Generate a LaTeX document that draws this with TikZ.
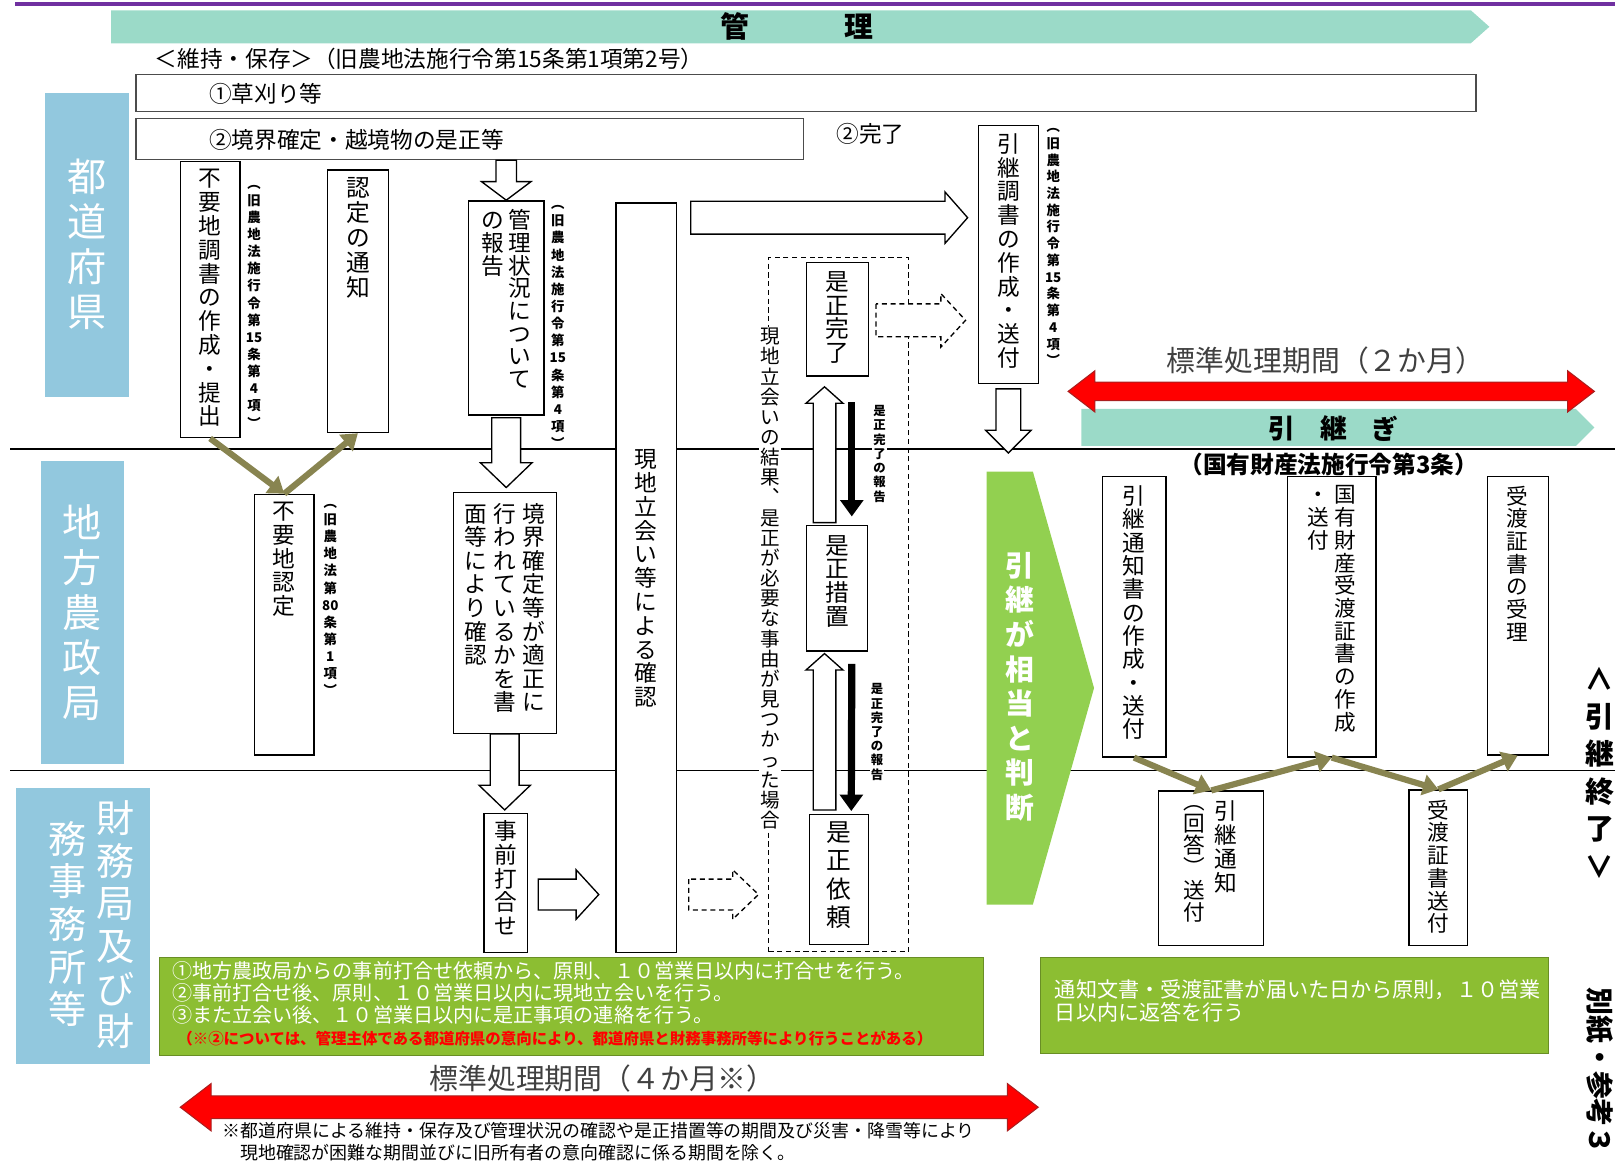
\documentclass[tikz,border=0pt]{standalone}
\usepackage{fontspec}
\usepackage{graphicx}
\setmainfont{Noto Sans CJK JP}
\usetikzlibrary{arrows.meta,calc,fit}
\definecolor{lanebl}{RGB}{146,200,222}
\definecolor{tealband}{RGB}{155,218,200}
\definecolor{olivec}{RGB}{136,132,80}
\definecolor{grnarrow}{RGB}{146,208,80}
\definecolor{gboxc}{RGB}{140,190,50}
\definecolor{dred}{RGB}{170,30,30}
\definecolor{purp}{RGB}{112,48,160}
\definecolor{txtg}{RGB}{64,64,64}
\newcommand\setfs[1]{\fontsize{#1}{#1}\selectfont}
\ExplSyntaxOn
\NewDocumentCommand\vt{O{1.1}m}{\vtop{\baselineskip=#1em\lineskip=0pt\lineskiplimit=-\maxdimen\tl_map_inline:nn{#2}{\hbox~to~1em{\hss##1\hss}}}}
\ExplSyntaxOff
\newcommand\blkdown[6][]{\draw[blk,#1] let \p1=#2, \p2=#3 in (\x1-#4pt,\y1) -- (\x1+#4pt,\y1) -- (\x1+#4pt,\y2+#6pt) -- (\x1+#5pt,\y2+#6pt) -- (\x1,\y2) -- (\x1-#5pt,\y2+#6pt) -- (\x1-#4pt,\y2+#6pt) -- cycle;}
\newcommand\blkup[6][]{\draw[blk,#1] let \p1=#2, \p2=#3 in (\x1-#4pt,\y1) -- (\x1+#4pt,\y1) -- (\x1+#4pt,\y2-#6pt) -- (\x1+#5pt,\y2-#6pt) -- (\x1,\y2) -- (\x1-#5pt,\y2-#6pt) -- (\x1-#4pt,\y2-#6pt) -- cycle;}
\newcommand\blkright[6][]{\draw[blk,#1] let \p1=#2, \p2=#3 in (\x1,\y1+#4pt) -- (\x1,\y1-#4pt) -- (\x2-#6pt,\y1-#4pt) -- (\x2-#6pt,\y1-#5pt) -- (\x2,\y1) -- (\x2-#6pt,\y1+#5pt) -- (\x2-#6pt,\y1+#4pt) -- cycle;}
\newcommand\dblarrow[5]{\filldraw[fill=red, draw=dred, line width=1pt] let \p1=#1, \p2=#2 in (\x1,\y1) -- (\x1+#5pt,\y1+#4pt) -- (\x1+#5pt,\y1+#3pt) -- (\x2-#5pt,\y1+#3pt) -- (\x2-#5pt,\y1+#4pt) -- (\x2,\y1) -- (\x2-#5pt,\y1-#4pt) -- (\x2-#5pt,\y1-#3pt) -- (\x1+#5pt,\y1-#3pt) -- (\x1+#5pt,\y1-#4pt) -- cycle;}
\begin{document}
\begin{tikzpicture}[x=1pt,y=-1pt,
  box/.style={draw, line width=1.3pt, fill=white, inner sep=0pt},
  wbox/.style={draw=black!70, line width=1.2pt, inner sep=0pt},
  lane/.style={fill=lanebl, draw=none, inner sep=0pt},
  vtxt/.style={anchor=north, inner sep=0pt},
  anno/.style={anchor=north, inner sep=0pt, font=\setfs{13}\bfseries},
  blk/.style={draw, line width=1.3pt, fill=white, line join=miter},
  dsh/.style={dash pattern=on 5pt off 3.5pt},
  olv/.style={draw=olivec, line width=6pt, -{Triangle[length=15pt,width=20pt]}},
  blackar/.style={line width=7pt, -{Triangle[length=16pt,width=22pt]}},
  lanel/.style={line width=1.5pt},
  gnote/.style={fill=gboxc, draw=gboxc!75!black, line width=1pt, inner sep=0pt}]
\useasboundingbox (0,0) rectangle (1568,1131);

% ---- top header
\draw[purp, line width=4pt] (15,4) -- (1568,4);
\fill[tealband] (108,10) -- (1428,10) -- (1446,26) -- (1428,42) -- (108,42) -- cycle;
\node[font=\setfs{28}\bfseries] (kanriA) at (714,26) {管};
\node[font=\setfs{28}\bfseries] (kanriB) at (834,26) {理};
\node[anchor=west, font=\setfs{22}, inner sep=0pt] (iji) at (150,57) {＜維持・保存＞（旧農地法施行令第15条第1項第2号）};

% ---- lane lines
\draw[lanel] (10,436) -- (1568,436);
\draw[lanel] (10,748) -- (1568,748);

% ---- maintenance boxes
\node[wbox, fit={(132,72)(1433,108)}] (kusa) {};
\node[anchor=west, font=\setfs{22}, inner sep=0pt] (kusa-t) at (203,91) {①草刈り等};
\node[wbox, fit={(132,115)(780,155)}] (kyokai) {};
\node[anchor=west, font=\setfs{22}, inner sep=0pt] (kyokai-t) at (203,136) {②境界確定・越境物の是正等};
\node[anchor=west, font=\setfs{22}, inner sep=0pt] (kanryo) at (812,130) {②完了};

% ---- lane labels
\node[lane, fit={(44,90)(125,385)}] (L1) {};
\node[font=\setfs{38}, text=white, inner sep=0pt] (L1t) at (L1.center) {\vt[1.15]{都道府県}};
\node[lane, fit={(40,448)(120,742)}] (L2) {};
\node[font=\setfs{38}, text=white, inner sep=0pt] (L2t) at (L2.center) {\vt[1.15]{地方農政局}};
\node[lane, fit={(16,765)(146,1033)}] (L3) {};
\node[vtxt, font=\setfs{37}, text=white] (L3a) at (112,777) {\vt[1.12]{財務局及び財}};
\node[vtxt, font=\setfs{37}, text=white] (L3b) at (66,797) {\vt[1.12]{務事務所等}};

% ---- process boxes
\node[box, fit={(175,157)(233,425)}] (fuyo) {};
\node[vtxt, font=\setfs{22}] (fuyo-t) at ($(fuyo.north)+(0,8)$) {\vt[1.05]{不要地調書の作成・提出}};
\node[anno] (fuyo-a) at ($(fuyo.north east)+(13,23)$) {\vt[1.28]{︵旧農地法施行令第{15}条第4項︶}};

\node[box, fit={(318,165)(377,420)}] (nintei) {};
\node[vtxt, font=\setfs{23}] (nintei-t) at ($(nintei.north)+(0,8)$) {\vt[1.05]{認定の通知}};

\node[box, fit={(455,195)(528,403)}] (kanrijo) {};
\node[vtxt, font=\setfs{22}] (kanrijo-t) at ($(kanrijo.north)+(0,9)$) {\vt[1.0]{の報告}\hspace{5pt}\vt[1.0]{管理状況について}};
\node[anno] (kanrijo-a) at ($(kanrijo.north east)+(13,5)$) {\vt[1.28]{︵旧農地法施行令第{15}条第4項︶}};

\node[box, fit={(247,480)(305,733)}] (fuyonin) {};
\node[vtxt, font=\setfs{22}] (fuyonin-t) at ($(fuyonin.north)+(0,8)$) {\vt[1.05]{不要地認定}};
\node[anno] (fuyonin-a) at ($(fuyonin.north east)+(15,10)$) {\vt[1.28]{︵旧農地法第{80}条第1項︶}};

\node[box, fit={(440,478)(540,712)}] (kakunin) {};
\node[vtxt, font=\setfs{22}] (kakunin-t) at ($(kakunin.north)+(0,11)$) {\vt[1.04]{面等により確認}\hspace{6pt}\vt[1.04]{行われているかを書}\hspace{6pt}\vt[1.04]{境界確定等が適正に}};

\node[box, fit={(470,790)(512,925)}] (jizen) {};
\node[vtxt, font=\setfs{22}] (jizen-t) at ($(jizen.north)+(0,7)$) {\vt[1.05]{事前打合せ}};

\node[box, fit={(598,197)(657,925)}] (genchi) {};
\node[vtxt, font=\setfs{22}] (genchi-t) at ($(genchi.north)+(0,240)$) {\vt[1.05]{現地立会い等による確認}};

% ---- correction loop
\node[draw, dsh, line width=1.2pt, fit={(746,250)(882,924)}, inner sep=0pt] (dbox) {};
\node[vtxt, fill=white, inner sep=1pt, font=\setfs{19}] (dbox-t) at ($(dbox.north west)+(2,68)$) {\vt[1.03]{現地立会いの結果︑是正が必要な事由が見つかった場合}};

\node[box, line width=1.1pt, fit={(783,255)(843,365)}] (kansei) {};
\node[vtxt, font=\setfs{23}] (kansei-t) at ($(kansei.north)+(0,9)$) {\vt[1.0]{是正完了}};
\node[box, line width=1.1pt, fit={(783,510)(842,632)}] (sochi) {};
\node[vtxt, font=\setfs{23}] (sochi-t) at ($(sochi.north)+(0,10)$) {\vt[1.0]{是正措置}};
\node[box, line width=1.1pt, fit={(786,791)(843,917)}] (irai) {};
\node[vtxt, font=\setfs{24}] (irai-t) at ($(irai.north)+(0,7)$) {\vt[1.15]{是正依頼}};

\blkup{($(sochi.north)+(-12,-2)$)}{($(kansei.south)+(-12,10)$)}{11}{18}{16}
\blkup{($(irai.north)+(-14,-4)$)}{($(sochi.south)+(-12,2)$)}{11}{18}{16}
\draw[blackar] ($(kansei.south)+(14,25)$) -- ($(sochi.north)+(14.5,-8)$);
\draw[blackar] ($(sochi.south)+(14.5,12)$) -- ($(irai.north)+(12,-3)$);
\node[vtxt, fill=white, inner sep=1pt, font=\setfs{12}\bfseries] (lab1) at ($(kansei.south)+(41,27)$) {\vt[1.15]{是正完了の報告}};
\node[vtxt, fill=white, inner sep=1pt, font=\setfs{12}\bfseries] (lab2) at ($(sochi.south)+(39,30)$) {\vt[1.15]{是正完了の報告}};

% ---- hikitsugi chosho
\node[box, line width=1.1pt, fit={(950,122)(1008,372)}] (chosho) {};
\node[vtxt, font=\setfs{22}] (chosho-t) at ($(chosho.north)+(0,8)$) {\vt[1.05]{引継調書の作成・送付}};
\node[anno] (chosho-a) at ($(chosho.north east)+(14,3)$) {\vt[1.25]{︵旧農地法施行令第{15}条第4項︶}};

% ---- block arrows
\blkdown{(kyokai.south -| kanrijo.north)}{(kanrijo.north)}{10}{24}{18}
\blkdown{($(kanrijo.south)+(0,2)$)}{($(kakunin.north)+(0,-4)$)}{14}{25}{24}
\blkdown{(kakunin.south)}{($(jizen.north)+(0,-3)$)}{14}{25}{24}
\coordinate (a4) at ($(jizen.east)+(10,11)$);
\blkright{(a4)}{($(a4 -| genchi.west)+(-16,0)$)}{15}{24}{22}
\coordinate (a5) at ($(genchi.north east)+(13,15)$);
\blkright{(a5)}{($(a5 -| chosho.west)+(-10,0)$)}{16}{25}{22}
\coordinate (a6) at ($(genchi.east |- a4)+(11,0)$);
\blkright[dsh]{(a6)}{($(a6 -| dbox.west)+(-9,0)$)}{15}{24}{25}
\coordinate (a7) at ($(kansei.east)+(7,1)$);
\blkright[dsh]{(a7)}{($(a7 -| chosho.west)+(-12,0)$)}{16}{26}{24}

% ---- green chevron
\node[inner sep=0pt, fit={(958,458)(1062,878)}] (hantei) {};
\fill[grnarrow] (hantei.north west) -- ($(hantei.north west)+(45,0)$) -- (hantei.east) -- ($(hantei.south west)+(45,0)$) -- (hantei.south west) -- cycle;
\node[vtxt, font=\setfs{28}\bfseries, text=white] (hantei-t) at ($(hantei.north west)+(32,78)$) {\vt[1.2]{引継が相当と判断}};
\blkdown{($(chosho.south)+(0,5)$)}{($(hantei.north -| chosho.south)+(0,-18)$)}{12}{22}{22}

% ---- hikitsugi band
\fill[tealband] (1050,397) -- (1530,397) -- (1548,415) -- (1530,433) -- (1050,433) -- cycle;
\coordinate (r2L) at (1037,380);
\coordinate (r2R) at (1548,380);
\dblarrow{(r2L)}{(r2R)}{9}{20}{26}
\node[font=\setfs{28}, text=txtg] (period2) at (1287,350) {標準処理期間（２か月）};
\node[font=\setfs{26}\bfseries] (hk1) at (1245,416) {引};
\node[font=\setfs{26}\bfseries] (hk2) at (1295,416) {継};
\node[font=\setfs{26}\bfseries] (hk3) at (1345,416) {ぎ};
\node[font=\setfs{23}\bfseries] (kokuyu) at (1290,451) {（国有財産法施行令第3条）};

% ---- right side boxes
\node[box, line width=1.1pt, fit={(1070,463)(1132,735)}] (tsuchi) {};
\node[vtxt, font=\setfs{22}] (tsuchi-t) at ($(tsuchi.north)+(0,9)$) {\vt[1.03]{引継通知書の作成・送付}};
\node[box, line width=1.1pt, fit={(1250,463)(1336,735)}] (juto) {};
\node[vtxt, font=\setfs{21}] (juto-t) at ($(juto.north)+(0,9)$) {\vt[1.05]{・送付}\hspace{6pt}\vt[1.05]{国有財産受渡証書の作成}};
\node[box, line width=1.1pt, fit={(1444,463)(1503,733)}] (juri) {};
\node[vtxt, font=\setfs{21}] (juri-t) at ($(juri.north)+(0,9)$) {\vt[1.05]{受渡証書の受理}};
\node[box, line width=1.1pt, fit={(1125,768)(1227,918)}] (kaito) {};
\node[vtxt, font=\setfs{22}] (kaito-t1) at ($(kaito.north)+(14,10)$) {\vt[1.05]{引継通知}};
\node[vtxt, font=\setfs{21}] (kaito-t2) at ($(kaito.north)+(-16,14)$) {\vt[1.03]{︵回答︶送付}};
\node[box, line width=1.1pt, fit={(1368,767)(1425,918)}] (ukew) {};
\node[vtxt, font=\setfs{21}] (ukew-t) at ($(ukew.north)+(0,10)$) {\vt[1.05]{受渡証書送付}};

% ---- olive arrows
\draw[olv] (fuyo.south) -- (fuyonin.north);
\draw[olv] (fuyonin.north) -- (nintei.south);
\draw[olv] (tsuchi.south) -- (kaito.north);
\draw[olv] (kaito.north) -- (juto.south);
\draw[olv] (juto.south) -- (ukew.north);
\draw[olv] (ukew.north) -- (juri.south);

% ---- right margin
\node[vtxt, font=\setfs{28}\bfseries] (owari) at (1553,645) {\vt[1.3]{{\rotatebox[origin=c]{-90}{＜}}引継終了{\rotatebox[origin=c]{-90}{＞}}}};
\node[rotate=-90, font=\setfs{27}\bfseries] (bessi) at (1553,1040) {別紙・参考３};

% ---- notes
\node[gnote, fit={(155,930)(955,1025)}] (note1) {};
\node[anchor=north west, align=left, text=white, font=\fontsize{19.5}{21.5}\selectfont, inner sep=0pt] (note1-t) at (167,933) {①地方農政局からの事前打合せ依頼から、原則、１０営業日以内に打合せを行う。\\②事前打合せ後、原則、１０営業日以内に現地立会いを行う。\\③また立会い後、１０営業日以内に是正事項の連絡を行う。\\\hspace*{5pt}{\fontsize{15}{21.5}\selectfont\bfseries\color{red}（※②については、管理主体である都道府県の意向により、都道府県と財務事務所等により行うことがある）}};
\node[gnote, fit={(1010,930)(1503,1023)}] (note2) {};
\node[anchor=north west, align=left, text=white, font=\fontsize{20.5}{22}\selectfont, inner sep=0pt] (note2-t) at (1024,951) {通知文書・受渡証書が届いた日から原則，１０営業\\日以内に返答を行う};

% ---- bottom period
\coordinate (r1L) at (175,1075);
\coordinate (r1R) at (1008,1075);
\dblarrow{(r1L)}{(r1R)}{11}{23}{30}
\node[font=\setfs{28}, text=txtg] (period1) at (585,1047) {標準処理期間（４か月※）};
\node[anchor=north west, align=left, font=\fontsize{17.4}{22}\selectfont, inner sep=0pt] (foot) at (216,1089) {※都道府県による維持・保存及び管理状況の確認や是正措置等の期間及び災害・降雪等により\\\hspace*{17pt}現地確認が困難な期間並びに旧所有者の意向確認に係る期間を除く。};
\end{tikzpicture}
\end{document}
